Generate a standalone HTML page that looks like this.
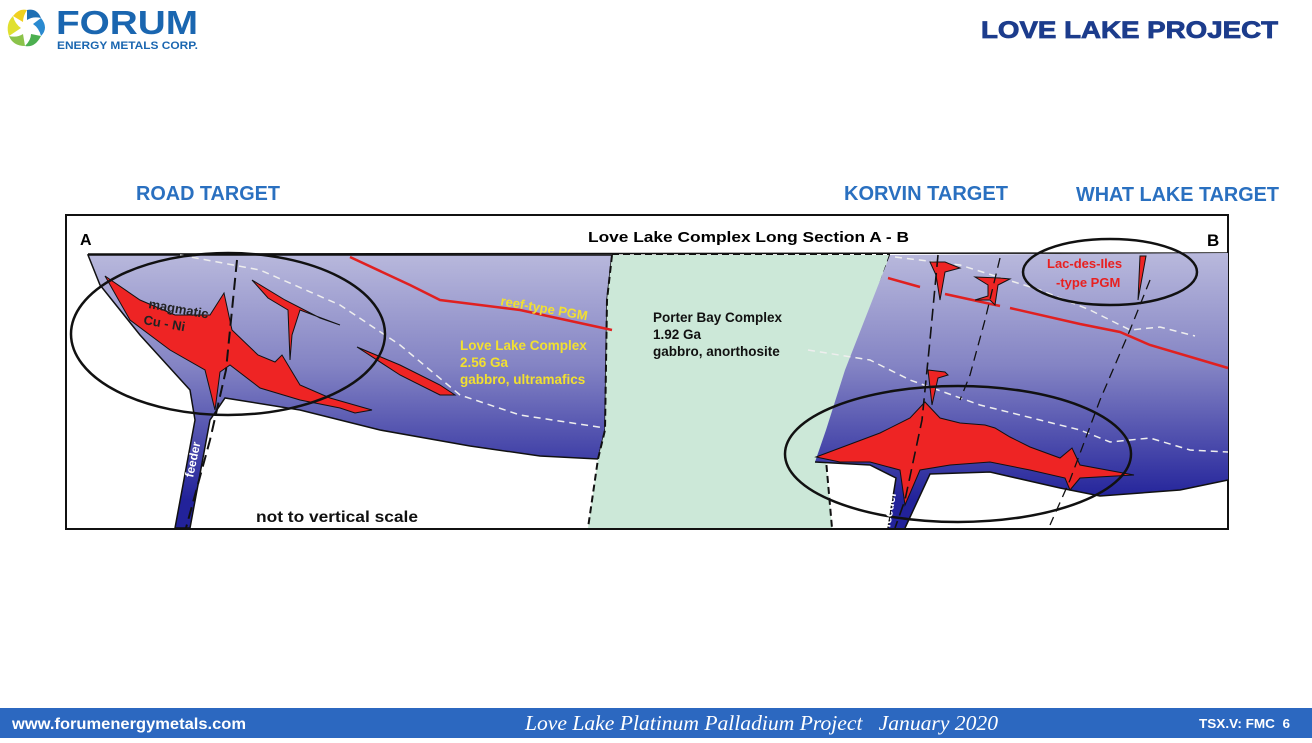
<!DOCTYPE html>
<html><head><meta charset="utf-8"><style>
body{margin:0;width:1312px;height:738px;overflow:hidden;background:#fff;font-family:"Liberation Sans",sans-serif;}
</style></head><body>
<svg width="1312" height="738" viewBox="0 0 1312 738" xmlns="http://www.w3.org/2000/svg" font-family="Liberation Sans, sans-serif">
<defs>
<linearGradient id="g" x1="0" y1="255" x2="0" y2="500" gradientUnits="userSpaceOnUse">
<stop offset="0" stop-color="#b8b8dc"/><stop offset="0.45" stop-color="#8484c4"/><stop offset="1" stop-color="#22229a"/></linearGradient>
</defs>
<g transform="translate(27,28)">
<path d="M0,-18 Q10,-20 14,-10 Q6,-12 0,-8Z" fill="#1f6fb4"/>
<path d="M14,-10 Q22,0 14,8 Q12,0 6,-4Z" fill="#2a8ad0"/>
<path d="M14,8 Q8,20 -2,18 Q4,12 4,6Z" fill="#4caf50"/>
<path d="M-2,18 Q-14,18 -18,8 Q-10,10 -4,6Z" fill="#8bc34a"/>
<path d="M-18,8 Q-22,-4 -14,-12 Q-12,-4 -6,0Z" fill="#e0e030"/>
<path d="M-14,-12 Q-8,-20 0,-18 Q-4,-12 -4,-6Z" fill="#f0d020"/>
</g>
<text x="56" y="34" font-size="33" font-weight="bold" fill="#1a66b0" textLength="142" lengthAdjust="spacingAndGlyphs">FORUM</text>
<text x="57" y="49" font-size="11" font-weight="bold" fill="#1a66b0" textLength="141" lengthAdjust="spacingAndGlyphs">ENERGY METALS CORP.</text>
<text x="981" y="38" font-size="24" font-weight="bold" fill="#1c3c8c" stroke="#1c3c8c" stroke-width="0.8" textLength="297" lengthAdjust="spacingAndGlyphs">LOVE LAKE  PROJECT</text>
<text x="136" y="200" font-size="20" font-weight="bold" fill="#2a70c0" textLength="144" lengthAdjust="spacingAndGlyphs">ROAD TARGET</text>
<text x="844" y="200" font-size="20" font-weight="bold" fill="#2a70c0" textLength="164" lengthAdjust="spacingAndGlyphs">KORVIN TARGET</text>
<text x="1076" y="201" font-size="20" font-weight="bold" fill="#2a70c0" textLength="203" lengthAdjust="spacingAndGlyphs">WHAT LAKE TARGET</text>
<rect x="66" y="215" width="1162" height="314" fill="#fff" stroke="#111" stroke-width="2"/>
<line x1="88" y1="254" x2="1228" y2="253" stroke="#111" stroke-width="1.5"/>
<text x="80" y="245" font-size="16" font-weight="bold">A</text>
<text x="1207" y="246" font-size="17" font-weight="bold">B</text>
<text x="588" y="242" font-size="15" font-weight="bold" textLength="321" lengthAdjust="spacingAndGlyphs">Love Lake Complex Long Section A - B</text>
<path d="M88,255 L612,255 L607,300 L605,430 L598,459 L540,456 L470,446 L380,430 L300,410 L225,398 L210,420 L190,528 L175,528 L195,420 L190,390 L140,335 L100,285 Z" fill="url(#g)" stroke="#111" stroke-width="1.5"/>
<path d="M612,255 L890,255 L840,400 L826,460 L832,528 L588,528 L598,459 L605,430 L607,300 Z" fill="#cce8d8"/>
<path d="M612,255 L607,300 L605,430 L598,459 L588,528 M890,255 L840,400 L826,460 L832,528" fill="none" stroke="#111" stroke-width="2" stroke-dasharray="7,4"/>
<line x1="612" y1="254" x2="890" y2="254" stroke="#111" stroke-width="2" stroke-dasharray="7,4"/>
<path d="M890,255 L1228,253 L1228,480 L1180,490 L1100,496 L1060,488 L990,472 L930,474 L905,528 L888,528 L896,478 L870,465 L815,462 L826,430 L845,370 Z" fill="url(#g)"/>
<path d="M1228,480 L1180,490 L1100,496 L1060,488 L990,472 L930,474 L905,528 M888,528 L896,478 L870,465 L815,462" fill="none" stroke="#111" stroke-width="1.5"/>
<path d="M180,255 L260,270 L340,305 L400,345 L460,395 L520,415 L605,428" fill="none" stroke="#eee" stroke-width="1.5" stroke-dasharray="7,5"/>
<path d="M895,257 L960,265 L1040,290 L1090,310 L1130,330 L1160,327 L1195,336" fill="none" stroke="#eee" stroke-width="1.5" stroke-dasharray="7,5"/>
<path d="M808,350 L870,360 L910,380 L980,405 L1040,420 L1080,430 L1110,442 L1150,438 L1190,450 L1228,452" fill="none" stroke="#eee" stroke-width="1.5" stroke-dasharray="7,5"/>
<path d="M350,257 L410,285 L440,300 L520,310 L612,330" fill="none" stroke="#e02020" stroke-width="2.5"/>
<path d="M888,278 L920,287 M945,294 L1000,306 M1010,308 L1080,324 L1120,332 L1150,345 L1228,368" fill="none" stroke="#e02020" stroke-width="2.5"/>
<path d="M105,276 L140,300 L175,315 L210,315 L224,293 L232,330 L258,355 L275,362 L282,355 L300,385 L330,398 L372,410 L355,413 L340,408 L300,400 L260,388 L230,365 L220,372 L215,410 L205,370 L170,350 L130,320 Z" fill="#ee2424" stroke="#111" stroke-width="1"/>
<path d="M252,280 L285,300 L320,318 L340,325 L300,310 L292,335 L290,360 L288,310 L268,298 Z" fill="#ee2424" stroke="#111" stroke-width="1"/>
<path d="M357,347 L400,365 L440,385 L455,395 L440,395 L400,375 Z" fill="#ee2424" stroke="#111" stroke-width="1"/>
<path d="M816,457 L840,448 L880,433 L910,418 L925,402 L940,418 L960,423 L985,425 L995,428 L1010,437 L1030,447 L1060,458 L1072,448 L1080,465 L1134,475 L1080,478 L1070,490 L1065,478 L1030,470 L990,462 L950,465 L920,470 L905,505 L900,470 L870,462 L840,462 Z" fill="#ee2424" stroke="#111" stroke-width="1"/>
<path d="M930,262 L945,262 L960,268 L945,272 L940,300 L936,275 Z" fill="#ee2424" stroke="#111" stroke-width="1"/>
<path d="M975,277 L1000,278 L1010,279 L998,285 L995,305 L990,300 L975,300 L988,296 L988,285 Z" fill="#ee2424" stroke="#111" stroke-width="1"/>
<path d="M928,370 L945,372 L948,375 L938,378 L932,405 Z" fill="#ee2424" stroke="#111" stroke-width="1"/>
<path d="M1140,256 L1146,256 L1138,300 Z" fill="#ee2424" stroke="#111" stroke-width="1"/>
<path d="M237,260 L226,370 L210,440 L186,528" fill="none" stroke="#111" stroke-width="2" stroke-dasharray="12,6"/>
<path d="M938,255 L930,340 L922,420 L905,500 L895,528" fill="none" stroke="#111" stroke-width="1.6" stroke-dasharray="12,6"/>
<path d="M1000,258 L985,320 L970,375 L960,400" fill="none" stroke="#111" stroke-width="1.3" stroke-dasharray="10,6"/>
<path d="M1150,280 L1130,330 L1100,400 L1070,480 L1050,525" fill="none" stroke="#111" stroke-width="1.3" stroke-dasharray="10,6"/>
<ellipse cx="228" cy="334" rx="157" ry="81" fill="none" stroke="#111" stroke-width="2.5"/>
<ellipse cx="958" cy="454" rx="173" ry="68" fill="none" stroke="#111" stroke-width="2.5"/>
<ellipse cx="1110" cy="272" rx="87" ry="33" fill="none" stroke="#111" stroke-width="2.5"/>
<text x="148" y="308" font-size="13" font-weight="bold" fill="#222" transform="rotate(10 148 308)">magmatic</text>
<text x="143" y="324" font-size="13" font-weight="bold" fill="#222" transform="rotate(10 143 324)">Cu - Ni</text>
<text x="500" y="305" font-size="13" font-weight="bold" fill="#f2e030" transform="rotate(10 500 305)">reef-type PGM</text>
<text x="460" y="350" font-size="13.5" font-weight="bold" fill="#f2e030">Love Lake Complex</text>
<text x="460" y="367" font-size="13.5" font-weight="bold" fill="#f2e030">2.56 Ga</text>
<text x="460" y="384" font-size="13.5" font-weight="bold" fill="#f2e030">gabbro, ultramafics</text>
<text x="193" y="478" font-size="12" font-weight="bold" fill="#fff" transform="rotate(-78 193 478)">feeder</text>
<text x="890" y="528" font-size="12" font-weight="bold" fill="#fff" transform="rotate(-80 890 528)">feeder</text>
<text x="256" y="522" font-size="16" font-weight="bold" fill="#111" textLength="162" lengthAdjust="spacingAndGlyphs">not to vertical scale</text>
<text x="653" y="322" font-size="13.5" font-weight="bold" fill="#111">Porter Bay Complex</text>
<text x="653" y="339" font-size="13.5" font-weight="bold" fill="#111">1.92 Ga</text>
<text x="653" y="356" font-size="13.5" font-weight="bold" fill="#111">gabbro, anorthosite</text>
<text x="1047" y="268" font-size="13" font-weight="bold" fill="#e82020">Lac-des-Iles</text>
<text x="1056" y="287" font-size="13" font-weight="bold" fill="#e82020">-type PGM</text>
<rect x="0" y="708" width="1312" height="30" fill="#2c68c0"/>
<text x="12" y="729" font-size="15.5" font-weight="bold" fill="#fff" textLength="234" lengthAdjust="spacingAndGlyphs">www.forumenergymetals.com</text>
<text x="525" y="730" font-size="21" font-style="italic" fill="#fff" font-family="Liberation Serif, serif" textLength="473" lengthAdjust="spacingAndGlyphs" xml:space="preserve">Love Lake Platinum Palladium Project   January 2020</text>
<text x="1199" y="728" font-size="12.5" font-weight="bold" fill="#fff" textLength="91" lengthAdjust="spacingAndGlyphs" xml:space="preserve">TSX.V: FMC  6</text>
</svg>
</body></html>
